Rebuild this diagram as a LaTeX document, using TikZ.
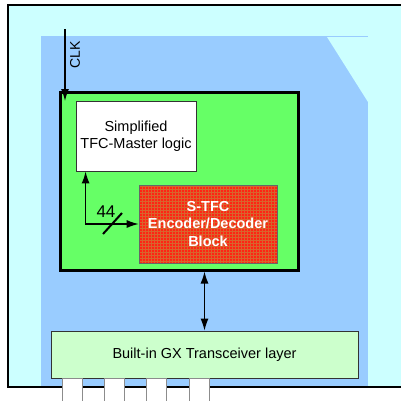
\documentclass[tikz,border=0pt]{standalone}
\usepackage{fontspec}
\setmainfont{Liberation Sans}
\usepackage{tikz}
\usetikzlibrary{positioning}
\usetikzlibrary{arrows.meta}
\usepackage{xcolor}

\definecolor{boardcyan}{HTML}{CCFFFF}
\definecolor{chipblue}{HTML}{99CCFF}
\definecolor{coregreen}{HTML}{66FF66}
\definecolor{gxgreen}{HTML}{CCFFCC}
\definecolor{codecred}{HTML}{FF2414}
\definecolor{gridred}{HTML}{D8642C}

\tikzset{
  txt/.style={font=\fontsize{14.5}{16.5}\selectfont, align=center},
  blockbox/.style={draw, rectangle, inner sep=0pt, txt},
}

\begin{document}
\begin{tikzpicture}[x=1pt, y=-1pt, >={Latex[length=12pt,width=8pt]}]
    \useasboundingbox (0,0) rectangle (401,400);
    \clip (0,0) rectangle (401,400);
    \fill[white] (0,0) rectangle (401,400);

    % Board and FPGA area
    \draw[line width=2pt, fill=boardcyan] (8,5) rectangle (420,387);
    \fill[chipblue] (41,36) rectangle (368,386);
    \fill[boardcyan] (327,37) -- (368,37) -- (368,102) -- cycle;

    % FPGA logic
    \node[blockbox, line width=3pt, fill=coregreen, minimum width=238pt, minimum height=178pt] (fpga) at (179,181) {};

    % Simplified master
    \node[blockbox, draw=black!80, line width=0.8pt, fill=white, minimum width=120pt, minimum height=70pt] (logic) at (136,136) {Simplified\\TFC-Master logic};

    % Encoder / decoder
    \node[blockbox, draw=black!60, line width=0.6pt, fill=codecred, minimum width=138pt, minimum height=78pt,
          font=\fontsize{14.5}{17.5}\selectfont\bfseries, text=white,
          path picture={\draw[gridred, line width=0.4pt, step=3pt] (path picture bounding box.south west) grid (path picture bounding box.north east);}]
          (codec) at (208,224) {S-TFC\\Encoder/Decoder\\Block};

    % Transceiver
    \node[blockbox, draw=black!80, line width=0.8pt, fill=gxgreen, minimum width=307pt, minimum height=47pt] (gx) at (204.5,354.5) {Built-in GX Transceiver layer};

    % Clock
    \coordinate (clk) at (65,29);
    \coordinate (clkin) at (65,101);
    \draw[->, line width=1.3pt] (clk) -- (clkin);
    \node[txt, rotate=90, font=\fontsize{14}{16}\selectfont] (clklabel) at (75,55) {CLK};

    % 44 bit bus
    \draw[<->, line width=1.3pt] ([xshift=10pt]logic.south west) |- (codec.west);
    \draw[line width=2pt] (103,234) -- (122,213);
    \node[txt, font=\fontsize{17}{19}\selectfont] (width) at (106,212) {44};

    % Link to transceiver
    \draw[<->, line width=1.3pt] (gx.north |- fpga.south) -- (gx.north);

    % Serial ports
    \foreach \px in {62,104,146,189}
        \draw[black!45, line width=0.6pt, fill=white] (\px,378) rectangle ++(20,23);
\end{tikzpicture}
\end{document}
